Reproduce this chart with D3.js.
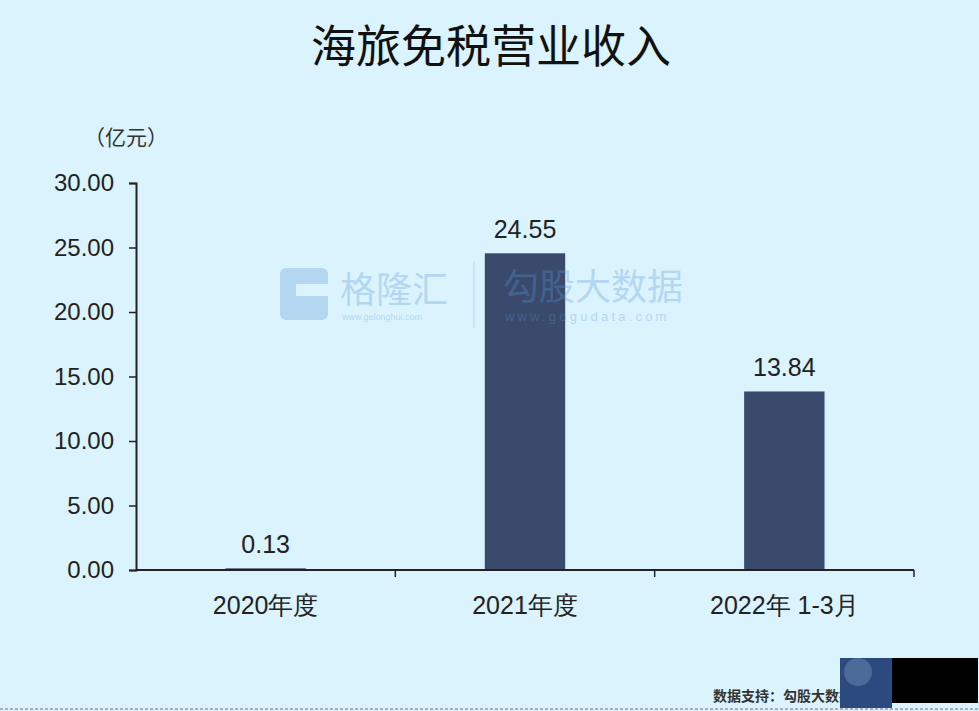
<!DOCTYPE html>
<html><head><meta charset="utf-8">
<script src="https://cdn.jsdelivr.net/npm/d3@7"></script>
<style>
html,body{margin:0;padding:0;background:#dbf3fd;}
svg{display:block;}
</style></head>
<body>
<script>
const categories = ["2020年度", "2021年度", "2022年 1-3月"];
const values = [0.13, 24.55, 13.84];
const yTicks = [0, 5, 10, 15, 20, 25, 30];
const title = "海旅免税营业收入";
const unit = "（亿元）";
const source = "数据支持：勾股大数据";

const W = 979, H = 711;
const m = {left: 136, right: 65, top: 183, bottom: 141};
const svg = d3.select("body").append("svg").attr("width", W).attr("height", H);
svg.append("rect").attr("width", W).attr("height", H).attr("fill", "#dbf3fd");

const x = d3.scaleBand().domain(categories).range([m.left, W - m.right]).paddingInner(0.69).paddingOuter(0.345);
const y = d3.scaleLinear().domain([0, 30]).range([H - m.bottom, m.top]);

const font = "Liberation Sans, Arial, sans-serif";
const cjk = "'Noto Sans CJK SC', sans-serif";

// title
svg.append("text").attr("x", 491).attr("y", 63).attr("text-anchor", "middle")
  .attr("font-family", cjk).attr("font-size", 45).attr("fill", "#111").text(title);
svg.append("text").attr("x", 126).attr("y", 145).attr("text-anchor", "middle")
  .attr("font-family", cjk).attr("font-size", 21).attr("fill", "#333").text(unit);

// bars
svg.append("g").selectAll("rect").data(values).join("rect")
  .attr("x", (d, i) => x(categories[i]))
  .attr("width", x.bandwidth())
  .attr("y", d => y(d))
  .attr("height", d => y(0) - y(d))
  .attr("fill", "#394a6c");

svg.append("g").selectAll("text").data(values).join("text")
  .attr("x", (d, i) => x(categories[i]) + x.bandwidth() / 2)
  .attr("y", d => y(d) - 15)
  .attr("text-anchor", "middle")
  .attr("font-family", font).attr("font-size", 25).attr("fill", "#222")
  .text(d => d.toFixed(2));

// y axis
const ya = svg.append("g").attr("transform", `translate(${m.left},0)`)
  .call(d3.axisLeft(y).tickValues(yTicks).tickFormat(d => d.toFixed(2)).tickSize(7).tickPadding(15));
ya.select(".domain").attr("stroke", "#222").attr("stroke-width", 2);
ya.selectAll(".tick line").attr("stroke", "#222").attr("stroke-width", 1.5);
ya.selectAll("text").attr("font-family", font).attr("font-size", 24).attr("fill", "#222");

// x axis
const xa = svg.append("g").attr("transform", `translate(0,${y(0)})`)
  .call(d3.axisBottom(x).tickSize(0).tickPadding(26));
xa.select(".domain").attr("stroke", "#222").attr("stroke-width", 2).attr("d", `M${m.left},0H${W - m.right}`);
xa.selectAll("text").attr("font-family", font).attr("font-size", 25).attr("fill", "#222");
const bounds = categories.map(c => x(c) + x.bandwidth() / 2 + x.step() / 2);
xa.append("g").selectAll("line").data(bounds).join("line")
  .attr("x1", d => d).attr("x2", d => d).attr("y1", 0).attr("y2", 7)
  .attr("stroke", "#222").attr("stroke-width", 1.5);

// watermark (overlaid, semi-transparent)
const wc = "#5a9ad8";
const wm = svg.append("g").attr("opacity", 0.3);
wm.append("rect").attr("x", 280).attr("y", 268).attr("width", 48).attr("height", 52).attr("rx", 6).attr("fill", wc);
wm.append("rect").attr("x", 296).attr("y", 284).attr("width", 32).attr("height", 12).attr("fill", "#dbf3fd");
wm.append("text").attr("x", 340).attr("y", 303).attr("font-family", cjk).attr("font-size", 36).attr("fill", wc).text("格隆汇");
wm.append("text").attr("x", 342).attr("y", 320).attr("font-family", font).attr("font-size", 9).attr("fill", wc).text("www.gelonghui.com");
wm.append("line").attr("x1", 474).attr("x2", 474).attr("y1", 262).attr("y2", 328).attr("stroke", wc).attr("stroke-width", 1);
wm.append("text").attr("x", 503).attr("y", 300).attr("font-family", cjk).attr("font-size", 36).attr("fill", wc).text("勾股大数据");
wm.append("text").attr("x", 505).attr("y", 321).attr("font-family", font).attr("font-size", 13).attr("letter-spacing", 3.2).attr("fill", wc).text("www.gogudata.com");

// footer
svg.append("text").attr("x", 713).attr("y", 701).attr("font-family", cjk).attr("font-weight", "bold")
  .attr("font-size", 14).attr("fill", "#333").text(source);
svg.append("line").attr("x1", 0).attr("x2", W).attr("y1", 709).attr("y2", 709)
  .attr("stroke", "#999").attr("stroke-dasharray", "3,2").attr("stroke-width", 1.5);
svg.append("rect").attr("x", 840).attr("y", 658).attr("width", 52).attr("height", 50).attr("fill", "#2c4a80");
svg.append("circle").attr("cx", 858).attr("cy", 672).attr("r", 14).attr("fill", "#4a6a98");
svg.append("rect").attr("x", 892).attr("y", 658).attr("width", 86).attr("height", 45).attr("fill", "#000");
</script>
</body></html>
